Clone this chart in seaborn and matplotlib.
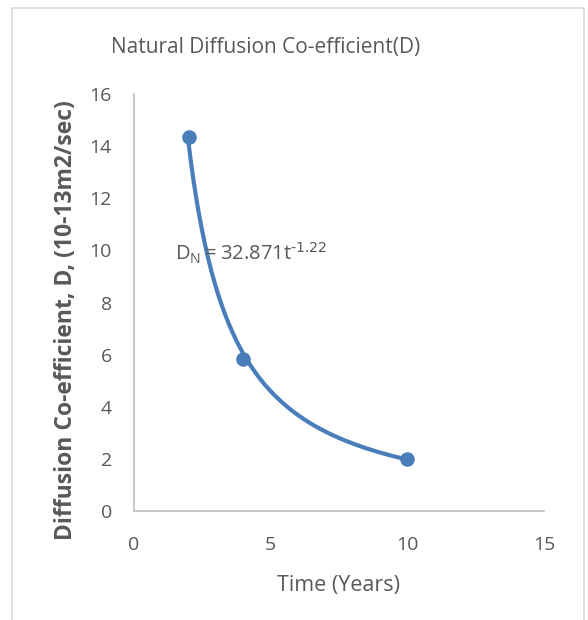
import matplotlib.pyplot as plt
import matplotlib.patches as patches
import numpy as np
import pandas as pd
import seaborn as sns

# data
time_years = [2, 4, 10]
diff_coef = [14.35, 5.83, 2.0]
equation = r"$\mathregular{D_N = 32.871t^{\text{-1.22}}}$"

sns.set_style("white")
plt.rcParams["font.family"] = ["Open Sans", "DejaVu Sans"]

blue = "#4a7ebb"
grey_txt = "#595959"

df = pd.DataFrame({"t": time_years, "D": diff_coef})

fig = plt.figure(figsize=(5.88, 6.2), dpi=100)
ax = fig.add_axes([0.228, 0.176, 0.697, 0.672])

# outer chart border like the Excel chart area
fig.patches.append(patches.Rectangle((12 / 588, -0.01), 572 / 588, 1 - 8 / 620 + 0.01,
                                     transform=fig.transFigure, fill=False,
                                     edgecolor="#d9d9d9", linewidth=1.2))

# power trendline fitted on the points (log-log least squares)
b, log_a = np.polyfit(np.log(df["t"]), np.log(df["D"]), 1)
tt = np.linspace(df["t"].min(), df["t"].max(), 200)
fit = pd.DataFrame({"t": tt, "D": np.exp(log_a) * tt ** b})
sns.lineplot(data=fit, x="t", y="D", ax=ax, color=blue, linewidth=3,
             solid_capstyle="round", zorder=2)

sns.scatterplot(data=df, x="t", y="D", ax=ax, color=blue, s=110,
                edgecolor=blue, linewidth=0, zorder=3, legend=False)

ax.text(1.5, 9.6, equation, fontsize=14.5, color=grey_txt)

ax.set_xlim(0, 15)
ax.set_ylim(0, 16)
ax.set_xticks([0, 5, 10, 15])
ax.set_yticks(range(0, 17, 2))
ax.tick_params(axis="both", length=0, labelsize=14, colors=grey_txt)
ax.tick_params(axis="x", pad=18)
ax.tick_params(axis="y", pad=16)
for s in ["top", "right"]:
    ax.spines[s].set_visible(False)
for s in ["left", "bottom"]:
    ax.spines[s].set_color("#bfbfbf")
    ax.spines[s].set_linewidth(1.2)

fig.text(266 / 588, 1 - 47 / 620, "Natural Diffusion Co-efficient(D)", fontsize=15,
         color=grey_txt, ha="center", va="center")
ax.set_xlabel("Time (Years)", fontsize=15.5, color=grey_txt, labelpad=15)
ax.set_ylabel("Diffusion Co-efficient, D, (10-13m2/sec)", fontsize=16.5,
              color=grey_txt, fontweight="bold")
ax.yaxis.set_label_coords(-0.136, 0.458)

fig.savefig("out.png", dpi=100)
